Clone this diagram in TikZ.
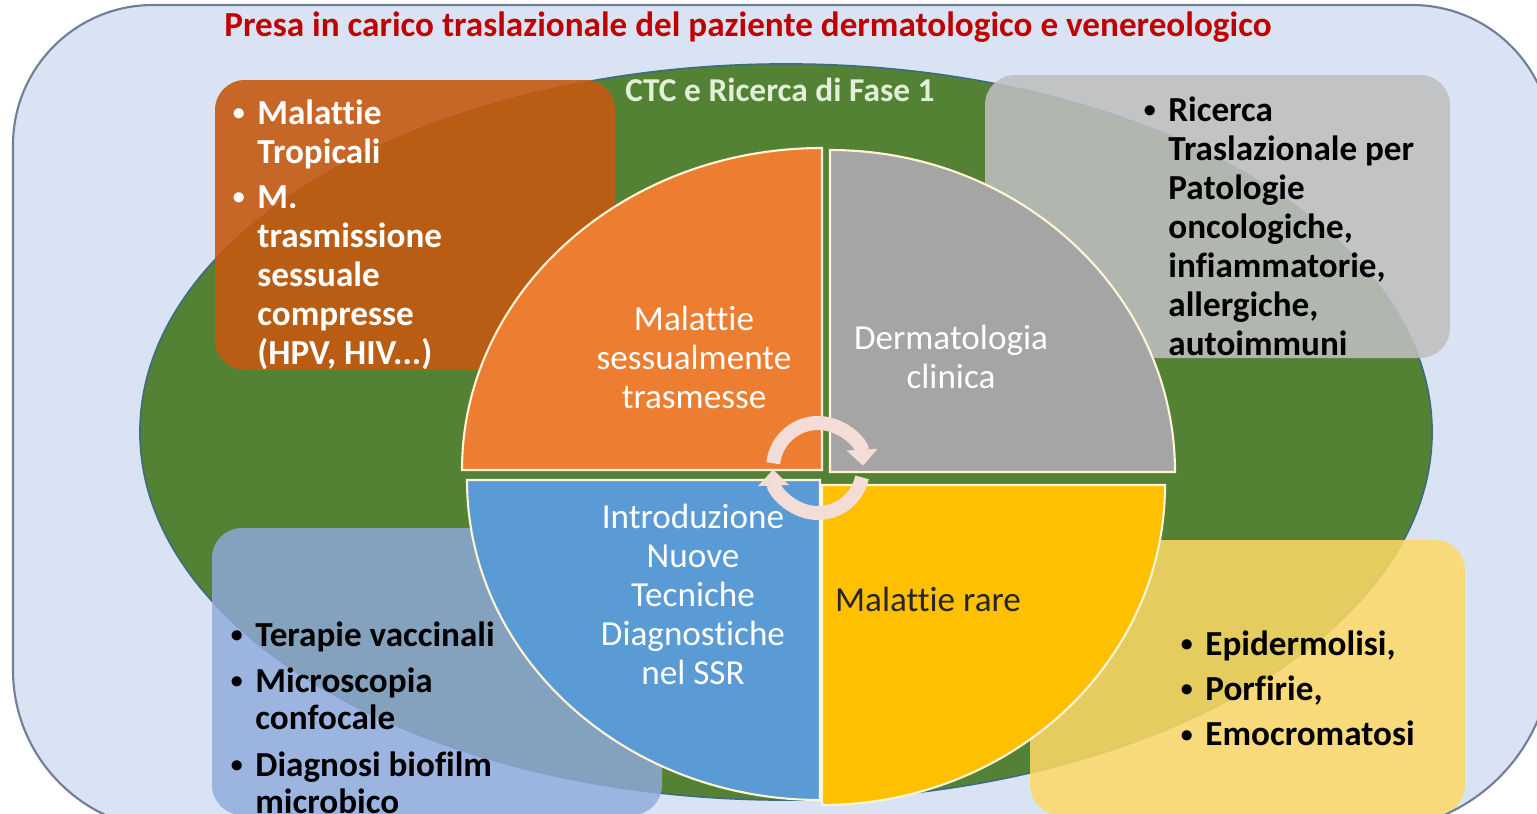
\documentclass[tikz,border=0pt]{standalone}
\usepackage{fontspec}
\setmainfont{Carlito}[Ligatures=NoCommon]
\usepackage{xcolor}
\usepackage{tikz}
\usetikzlibrary{arrows.meta}

\definecolor{bgblue}{HTML}{DAE3F3}
\definecolor{bgline}{HTML}{6F7F95}
\definecolor{ellgreen}{HTML}{548235}
\definecolor{ellline}{HTML}{3E6E7A}
\definecolor{boxorange}{HTML}{C55A11}
\definecolor{boxgray}{HTML}{BFBFBF}
\definecolor{boxblue}{HTML}{8FAADC}
\definecolor{boxyellow}{HTML}{FFD966}
\definecolor{qorange}{HTML}{ED7D31}
\definecolor{qgray}{HTML}{A5A5A5}
\definecolor{qblue}{HTML}{5B9BD5}
\definecolor{qyellow}{HTML}{FFC000}
\definecolor{qline}{HTML}{FFF5D6}
\definecolor{titlered}{HTML}{C00000}
\definecolor{ctcgreen}{HTML}{E2F0D9}
\definecolor{arrowpink}{HTML}{F4DDD6}

\tikzset{
  infobox/.style={rounded corners=3mm, draw=none},
  quarter/.style={draw=qline, line width=0.6pt},
  boxtext/.style={anchor=base west, inner sep=0pt, font=\bfseries\fontsize{10}{11.1}\selectfont},
  pietext/.style={align=center, inner sep=0pt, font=\fontsize{10}{11.1}\selectfont},
  turn/.style={line width=1.4mm, draw=arrowpink, -{Triangle[width=3mm,length=1.6mm]}}
}

\newcommand{\bul}{\makebox[7.6pt][l]{\hspace{0.6pt}\raisebox{0.1em}{\scalebox{0.68}{\textbullet}}}}

\begin{document}
\begin{tikzpicture}[x=0.1mm, y=-0.1mm]
  \useasboundingbox (0,0) rectangle (1537,813);
  \clip (0,0) rectangle (1537,813);

  % background and ellipse
  \path[fill=bgblue, draw=bgline, line width=0.6pt]
    [rounded corners=14mm] (13,450) |- (800,5) -| (1552,450)
    [rounded corners=18mm] |- (800,830)
    [rounded corners=16mm] -| (13,450) -- cycle;
  \fill[ellgreen, draw=ellline, line width=0.5pt] (786,432) ellipse [x radius=646, y radius=368];

  % side boxes
  \fill[infobox, boxorange, opacity=0.9] (215,80) rectangle (615,370);
  \fill[infobox, boxgray, opacity=0.88] (985,75) rectangle (1450,358);
  \fill[infobox, boxblue, opacity=0.82] (212,528) rectangle (662,815);
  \fill[infobox, boxyellow, opacity=0.85] (1030,540) rectangle (1465,815);

  % four quarters
  \filldraw[quarter, fill=qorange] (822,470) -- ++(-360,0)
    arc[start angle=180, end angle=270, x radius=360, y radius=322] -- cycle;
  \filldraw[quarter, fill=qgray] (830,472) -- ++(0,-322)
    arc[start angle=270, end angle=360, x radius=345, y radius=322] -- cycle;
  \filldraw[quarter, fill=qyellow] (822,485) -- ++(343,0)
    arc[start angle=0, end angle=90, x radius=343, y radius=320] -- cycle;
  \filldraw[quarter, fill=qblue] (820,480) -- ++(0,320)
    arc[start angle=90, end angle=180, x radius=353, y radius=320] -- cycle;

  % titles
  \node[font=\bfseries\fontsize{10}{12}\selectfont, text=titlered, inner sep=0pt] (title) at (748,27)
    {Presa in carico traslazionale del paziente dermatologico e venereologico};
  \node[font=\bfseries\fontsize{9.5}{11}\selectfont, text=ctcgreen, inner sep=0pt] (ctc) at (780,90)
    {CTC e Ricerca di Fase 1};

  % quarter labels
  \node[pietext, text=white] (mst) at (694,357) {Malattie\\sessualmente\\trasmesse};
  \node[pietext, text=white] (derma) at (951,357) {Dermatologia\\clinica};
  \node[pietext, text=white] (intro) at (693,594) {Introduzione\\Nuove\\Tecniche\\Diagnostiche\\nel SSR};
  \node[pietext, text=black!85] (rare) at (928,599) {Malattie rare};

  % box lists
  \node[boxtext, text=white] (tropici) at (230,124) {\begin{tabular}[t]{@{}l@{}l@{}}
    \bul & Malattie\\ & Tropicali\\[1.8pt]
    \bul & M.\\ & trasmissione\\ & sessuale\\ & compresse\\ & (HPV, HIV...)
  \end{tabular}};
  \node[boxtext] (ricerca) at (1141,121) {\begin{tabular}[t]{@{}l@{}l@{}}
    \bul & Ricerca\\ & Traslazionale per\\ & Patologie\\ & oncologiche,\\
         & infiammatorie,\\ & allergiche,\\ & autoimmuni
  \end{tabular}};
  \node[boxtext, font=\bfseries\fontsize{10}{10.6}\selectfont] (terapie) at (228,646) {\begin{tabular}[t]{@{}l@{}l@{}}
    \bul & Terapie vaccinali\\[2.6pt]
    \bul & Microscopia\\ & confocale\\[2.6pt]
    \bul & Diagnosi biofilm\\ & microbico
  \end{tabular}};
  \node[boxtext] (rari) at (1178,655) {\begin{tabular}[t]{@{}l@{}l@{}}
    \bul & Epidermolisi,\\[1.8pt]
    \bul & Porfirie,\\[1.8pt]
    \bul & Emocromatosi
  \end{tabular}};

  % cycle arrows
  \coordinate (hub) at (818,468);
  \draw[turn] (hub) ++(186:45) arc[start angle=186, end angle=357, radius=45];
  \draw[turn] (hub) ++(12:45) arc[start angle=12, end angle=178, radius=45];
\end{tikzpicture}
\end{document}
